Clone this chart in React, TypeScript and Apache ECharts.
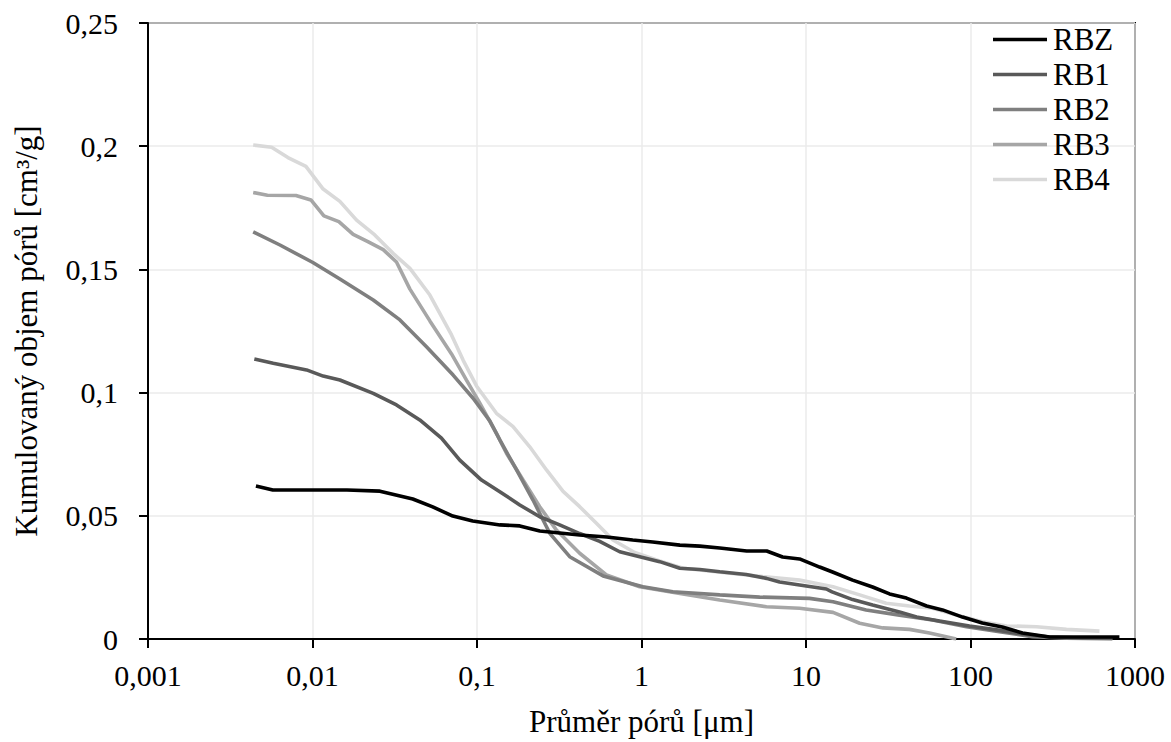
import React, { useEffect, useRef } from "react";
import * as echarts from "echarts";

const xTickLabels = ["0,001", "0,01", "0,1", "1", "10", "100", "1000"];
const seriesNames = ["RBZ", "RB1", "RB2", "RB3", "RB4"];
const seriesColors = ["#000000", "#595959", "#7f7f7f", "#a6a6a6", "#d9d9d9"];

const rbzDiameter = [0.00453, 0.00574, 0.01, 0.0162, 0.0257, 0.0407, 0.0538, 0.0713, 0.0942, 0.138, 0.182, 0.241, 0.318, 0.421, 0.615, 0.884, 1.17, 1.71, 2.26, 2.99, 4.36, 5.77, 7.21, 9.14, 12.1, 14.5, 19.2, 25.4, 32.2, 40.8, 54.1, 67.6, 89.4, 118, 156, 207, 302, 479, 804];
const rbzVolume = [0.0621, 0.0605, 0.0605, 0.0605, 0.06, 0.0568, 0.0536, 0.0499, 0.0479, 0.0463, 0.0459, 0.0438, 0.043, 0.0422, 0.0414, 0.0402, 0.0394, 0.0381, 0.0377, 0.0369, 0.0357, 0.0357, 0.0333, 0.0325, 0.0292, 0.0272, 0.0239, 0.0211, 0.0183, 0.0166, 0.0134, 0.0118, 0.0089, 0.0065, 0.0049, 0.0024, 0.0008, 0.0008, 0.0008];

const rb1Diameter = [0.00443, 0.00577, 0.0092, 0.01161, 0.01467, 0.0234, 0.0324, 0.0449, 0.0608, 0.0786, 0.1065, 0.1376, 0.182, 0.2406, 0.318, 0.421, 0.557, 0.737, 0.975, 1.29, 1.71, 2.26, 2.99, 4.33, 5.75, 6.91, 9.14, 13.3, 14.4, 19.2, 25.4, 37.0, 47.0, 64.8, 98.6, 144, 207, 302, 479, 729];
const rb1Volume = [0.1136, 0.1119, 0.1092, 0.1067, 0.1051, 0.0997, 0.095, 0.0889, 0.0815, 0.0726, 0.0645, 0.0598, 0.0544, 0.0496, 0.0463, 0.0428, 0.0396, 0.0354, 0.0334, 0.0314, 0.0287, 0.0282, 0.0273, 0.0262, 0.0246, 0.0231, 0.0219, 0.0203, 0.0191, 0.016, 0.0138, 0.011, 0.0089, 0.0073, 0.0053, 0.0037, 0.002, 0.0008, 0.0004, 0.0004];

const rb2Diameter = [0.00436, 0.00634, 0.01005, 0.01467, 0.0234, 0.034, 0.0493, 0.0716, 0.0947, 0.1196, 0.1376, 0.174, 0.219, 0.277, 0.366, 0.584, 1.02, 1.55, 2.99, 5.23, 10.5, 14.6, 23.2, 37.0, 58.8, 94.6, 150, 238, 383, 729];
const rb2Volume = [0.1652, 0.1599, 0.1528, 0.1461, 0.1376, 0.1295, 0.1186, 0.1071, 0.0977, 0.0885, 0.0808, 0.0686, 0.0564, 0.0429, 0.0334, 0.0256, 0.0212, 0.0192, 0.0179, 0.017, 0.0165, 0.0151, 0.0118, 0.0097, 0.0077, 0.005, 0.003, 0.0009, 0.0003, 0.0];

const rb3Diameter = [0.00436, 0.00532, 0.00793, 0.00978, 0.01173, 0.01446, 0.01767, 0.0217, 0.0269, 0.0324, 0.0391, 0.0517, 0.07, 0.0863, 0.104, 0.1313, 0.151, 0.1906, 0.2406, 0.304, 0.421, 0.612, 0.975, 1.71, 2.99, 5.75, 9.14, 14.6, 21.2, 29.3, 42.6, 56.3, 81.9];
const rb3Volume = [0.1812, 0.1801, 0.18, 0.1782, 0.1717, 0.1694, 0.1642, 0.1613, 0.158, 0.153, 0.142, 0.1291, 0.1157, 0.1051, 0.0957, 0.0835, 0.0754, 0.0645, 0.0537, 0.0442, 0.0348, 0.026, 0.0212, 0.0185, 0.0158, 0.0131, 0.0125, 0.0108, 0.0064, 0.0045, 0.0039, 0.0024, 0.0];

const rb4Diameter = [0.00436, 0.00564, 0.00709, 0.00912, 0.01161, 0.01467, 0.01853, 0.0239, 0.0309, 0.0391, 0.0517, 0.07, 0.0823, 0.0993, 0.1313, 0.1657, 0.2093, 0.2645, 0.3337, 0.421, 0.532, 0.671, 0.909, 1.29, 1.79, 3.11, 5.45, 9.14, 14.6, 21.2, 30.7, 42.6, 58.8, 81.9, 118, 166, 252, 383, 608];
const rb4Volume = [0.2005, 0.1996, 0.1954, 0.1918, 0.1826, 0.1776, 0.17, 0.164, 0.1565, 0.1504, 0.1396, 0.1234, 0.1132, 0.1027, 0.0916, 0.0862, 0.078, 0.0686, 0.0599, 0.0537, 0.047, 0.0402, 0.0351, 0.0317, 0.0287, 0.027, 0.0253, 0.0239, 0.0212, 0.0179, 0.0145, 0.0134, 0.0125, 0.0097, 0.007, 0.0053, 0.005, 0.0039, 0.0032];

const diameters = [rbzDiameter, rb1Diameter, rb2Diameter, rb3Diameter, rb4Diameter];
const volumes = [rbzVolume, rb1Volume, rb2Volume, rb3Volume, rb4Volume];

const FONT = "'Liberation Serif', 'Times New Roman', serif";

export default function App() {
  const ref = useRef<HTMLDivElement>(null);
  useEffect(() => {
    if (!ref.current) return;
    const chart = echarts.init(ref.current, null, { renderer: "svg" });
    const series = seriesNames.map((name, i) => ({
      name,
      type: "line",
      showSymbol: false,
      symbol: "none",
      smooth: false,
      lineStyle: { color: seriesColors[i], width: 3.6 },
      itemStyle: { color: seriesColors[i] },
      data: diameters[i].map((d, j) => [d, volumes[i][j]]),
      z: 10 - i,
    }));
    chart.setOption({
      animation: false,
      backgroundColor: "#ffffff",
      textStyle: { fontFamily: FONT },
      grid: {
        left: 148,
        top: 23,
        width: 987,
        height: 616,
        show: true,
        borderColor: "#000",
        borderWidth: 2,
        backgroundColor: "transparent",
      },
      legend: {
        orient: "vertical",
        left: 993,
        top: 22,
        padding: 0,
        itemGap: 0,
        itemWidth: 54,
        itemHeight: 3.5,
        icon: "rect",
        data: seriesNames,
        textStyle: { fontFamily: FONT, fontSize: 31, color: "#000", lineHeight: 35, padding: [0, 0, 0, 1] },
      },
      xAxis: {
        type: "log",
        logBase: 10,
        min: 0.001,
        max: 1000,
        interval: 1,
        name: "Průměr pórů [μm]",
        nameLocation: "middle",
        nameGap: 67,
        nameTextStyle: { fontFamily: FONT, fontSize: 31, color: "#000" },
        axisLine: { show: true, onZero: false, lineStyle: { color: "#000", width: 2 } },
        axisTick: { show: true, length: 9, inside: false, lineStyle: { color: "#000", width: 2 } },
        minorTick: { show: false },
        axisLabel: {
          fontFamily: FONT,
          fontSize: 30,
          color: "#000",
          margin: 21,
          formatter: (v: number) => xTickLabels[Math.round(Math.log10(v)) + 3],
        },
        splitLine: { show: true, lineStyle: { color: "#ebebeb", width: 1.5 } },
      },
      yAxis: {
        type: "value",
        min: 0,
        max: 0.25,
        interval: 0.05,
        name: "Kumulovaný objem pórů [cm³/g]",
        nameLocation: "middle",
        nameGap: 106,
        nameTextStyle: { fontFamily: FONT, fontSize: 31, color: "#000" },
        axisLine: { show: true, lineStyle: { color: "#000", width: 2 } },
        axisTick: { show: true, length: 9, inside: false, lineStyle: { color: "#000", width: 2 } },
        axisLabel: {
          fontFamily: FONT,
          fontSize: 30,
          color: "#000",
          margin: 30,
          formatter: (v: number) => String(Math.round(v * 100) / 100).replace(".", ","),
        },
        splitLine: { show: true, lineStyle: { color: "#ebebeb", width: 1.5 } },
      },
      series,
    });
    return () => chart.dispose();
  }, []);
  return (
    <div
      ref={ref}
      style={{ position: "absolute", left: 0, top: 0, width: 1171, height: 742, background: "#fff" }}
    />
  );
}
